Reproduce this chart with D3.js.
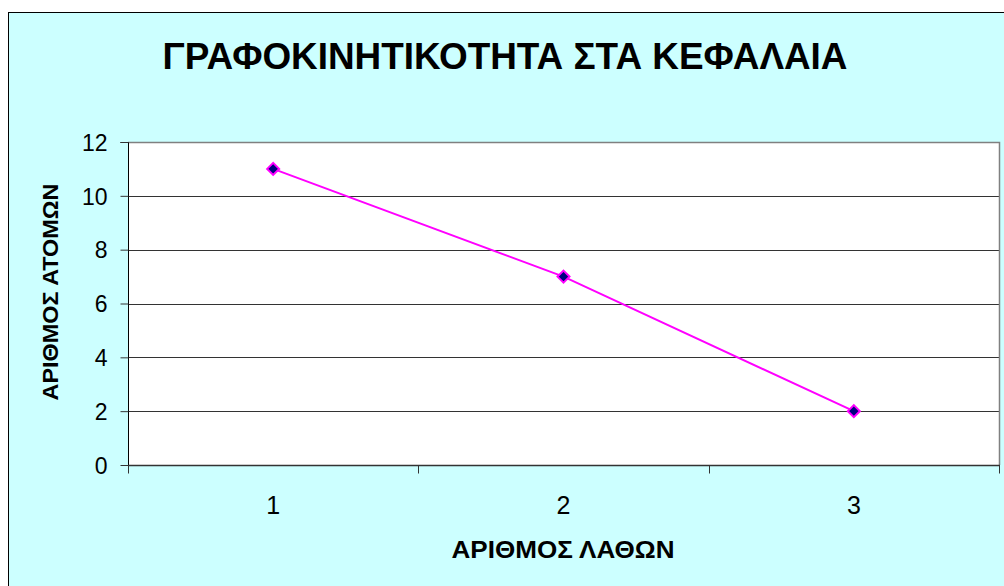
<!DOCTYPE html>
<html>
<head>
<meta charset="utf-8">
<script src="https://cdn.jsdelivr.net/npm/d3@7"></script>
<style>
  html, body { margin: 0; padding: 0; background: #ffffff; }
  svg { display: block; }
  text { font-family: Arial, "Liberation Sans", sans-serif; fill: #000; }
</style>
</head>
<body>
<svg id="chart" width="1004" height="586"></svg>
<script>
// Number of errors per pupil (x) against number of pupils (y)
const categories = ["1", "2", "3"];
const values = [11, 7, 2];
const yTicks = [0, 2, 4, 6, 8, 10, 12];
const titleText = "ΓΡΑΦΟΚΙΝΗΤΙΚΟΤΗΤΑ ΣΤΑ ΚΕΦΑΛΑΙΑ";
const xTitle = "ΑΡΙΘΜΟΣ ΛΑΘΩΝ";
const yTitle = "ΑΡΙΘΜΟΣ ΑΤΟΜΩΝ";

const svg = d3.select("#chart");

// chart background panel
svg.append("rect")
  .attr("x", 8.5).attr("y", 12.5)
  .attr("width", 1010).attr("height", 590)
  .attr("fill", "#CCFFFF")
  .attr("stroke", "#000").attr("stroke-width", 1);

const plot = { left: 128, right: 999, top: 142, bottom: 465 };

const x = d3.scaleBand().domain(categories).range([plot.left, plot.right]).padding(0);
const y = d3.scaleLinear().domain([0, 12]).range([plot.bottom, plot.top]);

// plot area
svg.append("rect")
  .attr("x", plot.left).attr("y", plot.top)
  .attr("width", plot.right - plot.left).attr("height", plot.bottom - plot.top)
  .attr("fill", "#ffffff");

// horizontal gridlines
svg.append("g")
  .selectAll("line")
  .data(yTicks.filter(d => d > 0 && d < 12))
  .join("line")
  .attr("x1", plot.left).attr("x2", plot.right)
  .attr("y1", d => Math.round(y(d)) + 0.5).attr("y2", d => Math.round(y(d)) + 0.5)
  .attr("stroke", "#333").attr("stroke-width", 1);

// plot area frame (top and right)
svg.append("path")
  .attr("d", `M${plot.left},${plot.top + 0.5}H${plot.right + 0.5}V${plot.bottom}`)
  .attr("fill", "none").attr("stroke", "#808080").attr("stroke-width", 1.5);

// y axis
const yAxis = d3.axisLeft(y).tickValues(yTicks).tickSize(8).tickPadding(13).tickFormat(d3.format("d"));
const gy = svg.append("g")
  .attr("transform", `translate(${plot.left + 0.5},0)`)
  .call(yAxis);
gy.select(".domain").attr("stroke", "#000").attr("d", `M-8,${plot.top + 0.5}H0V${plot.bottom + 8}`);
gy.selectAll(".tick line").attr("stroke", "#333");
gy.selectAll(".tick text")
  .attr("font-size", 23).attr("font-family", "Arial, 'Liberation Sans', sans-serif")
  .attr("fill", "#000").attr("dy", "0.36em");

// x axis with ticks on band boundaries
const gx = svg.append("g").attr("transform", `translate(0,${plot.bottom + 0.5})`);
gx.append("line")
  .attr("x1", plot.left).attr("x2", plot.right + 1)
  .attr("stroke", "#333").attr("stroke-width", 1.5);
const boundaries = categories.map(c => x(c)).concat([x(categories[categories.length - 1]) + x.bandwidth()]);
gx.selectAll("line.tk")
  .data(boundaries)
  .join("line").attr("class", "tk")
  .attr("x1", d => Math.round(d) + 0.5).attr("x2", d => Math.round(d) + 0.5)
  .attr("y1", 0).attr("y2", 8)
  .attr("stroke", "#333");
gx.selectAll("text")
  .data(categories)
  .join("text")
  .attr("x", d => x(d) + x.bandwidth() / 2)
  .attr("y", 48)
  .attr("text-anchor", "middle")
  .attr("font-size", 25)
  .text(d => d);

// series line
svg.append("path")
  .datum(values)
  .attr("fill", "none")
  .attr("stroke", "#FF00FF")
  .attr("stroke-width", 2)
  .attr("d", d3.line()
    .x((d, i) => x(categories[i]) + x.bandwidth() / 2)
    .y(d => y(d)));

// diamond markers
svg.append("g")
  .selectAll("path")
  .data(values)
  .join("path")
  .attr("transform", (d, i) => `translate(${x(categories[i]) + x.bandwidth() / 2},${y(d)})`)
  .attr("d", "M0,-6L6,0L0,6L-6,0Z")
  .attr("fill", "#000080")
  .attr("stroke", "#FF00FF")
  .attr("stroke-width", 2);

// titles
svg.append("text")
  .attr("x", 505).attr("y", 69)
  .attr("text-anchor", "middle")
  .attr("font-size", 37).attr("font-weight", "bold")
  .attr("textLength", 685).attr("lengthAdjust", "spacingAndGlyphs")
  .text(titleText);

svg.append("text")
  .attr("x", 563).attr("y", 558)
  .attr("text-anchor", "middle")
  .attr("font-size", 23).attr("font-weight", "bold")
  .attr("textLength", 223).attr("lengthAdjust", "spacingAndGlyphs")
  .text(xTitle);

svg.append("text")
  .attr("transform", "translate(58,292) rotate(-90)")
  .attr("text-anchor", "middle")
  .attr("font-size", 22).attr("font-weight", "bold")
  .attr("textLength", 217).attr("lengthAdjust", "spacingAndGlyphs")
  .text(yTitle);
</script>
</body>
</html>
